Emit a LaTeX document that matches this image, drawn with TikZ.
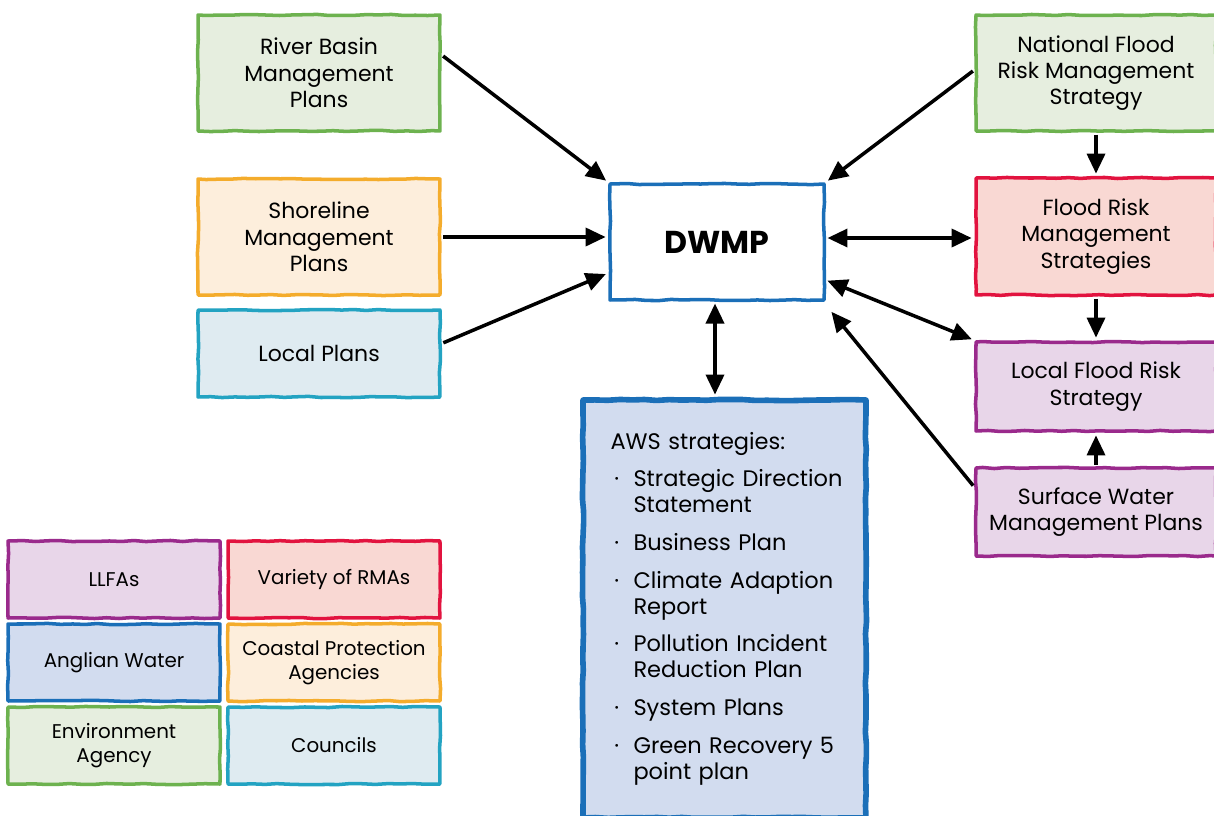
\documentclass[tikz,border=0pt]{standalone}
\usepackage{fontspec}
\setmainfont{Poppins}
\usetikzlibrary{arrows.meta,decorations.pathmorphing}
\definecolor{egreen}{HTML}{6DB24F}\definecolor{egreenfill}{HTML}{E6EEDF}
\definecolor{eorange}{HTML}{F4AC2C}\definecolor{eorangefill}{HTML}{FDEEDC}
\definecolor{ecyan}{HTML}{23A3C2}\definecolor{ecyanfill}{HTML}{DFEBF1}
\definecolor{eblue}{HTML}{1B6FB8}\definecolor{ebluefill}{HTML}{D2DCEF}
\definecolor{ered}{HTML}{E2133F}\definecolor{eredfill}{HTML}{F9D8D3}
\definecolor{epurple}{HTML}{9A2A8C}\definecolor{epurplefill}{HTML}{E8D6E9}
\begin{document}
\begin{tikzpicture}[x=0.02cm,y=-0.02cm,>={Triangle[length=0.4cm,width=0.36cm]},line join=round,
	sketch/.style={draw,line width=2pt,align=center,inner sep=2pt,
		decorate,decoration={random steps,segment length=7pt,amplitude=0.35pt}},
	plan/.style={sketch,minimum width=4.84cm,font=\fontsize{12.5}{15}\selectfont},
	key/.style={sketch,minimum width=4.24cm,minimum height=1.54cm,font=\fontsize{11.3}{13.6}\selectfont},
	green/.style={draw=egreen,fill=egreenfill},
	orange/.style={draw=eorange,fill=eorangefill},
	cyan/.style={draw=ecyan,fill=ecyanfill},
	blue/.style={draw=eblue,fill=ebluefill},
	red/.style={draw=ered,fill=eredfill},
	purple/.style={draw=epurple,fill=epurplefill},
	link/.style={line width=2pt,shorten >=1.5pt,shorten <=1pt}]
	\useasboundingbox (0,0) rectangle (1214,815);
	\node[plan,green,minimum height=2.32cm] (rbmp) at (319,73) {River Basin\\Management\\Plans};
	\node[plan,orange,minimum height=2.32cm] (smp) at (319,237) {Shoreline\\Management\\Plans};
	\node[plan,cyan,minimum height=1.74cm] (lp) at (319,353.5) {Local Plans};
	\node[plan,draw=eblue,fill=white,minimum width=4.28cm,minimum height=2.32cm,font=\fontsize{18}{22}\selectfont\bfseries] (dwmp) at (717,242) {DWMP};
	\node[plan,green,minimum width=4.8cm,minimum height=2.32cm] (nfrms) at (1096,73) {National Flood\\Risk Management\\Strategy};
	\node[plan,red,minimum width=4.8cm,minimum height=2.34cm] (frms) at (1096,236.5) {Flood Risk\\Management\\Strategies};
	\node[plan,purple,minimum width=4.8cm,minimum height=1.78cm] (lfrs) at (1096,386.5) {Local Flood Risk\\Strategy};
	\node[plan,purple,minimum width=4.8cm,minimum height=1.76cm] (swmp) at (1096,512) {Surface Water\\Management Plans};
	\node[sketch,blue,line width=3.2pt,minimum width=5.66cm,minimum height=8.36cm,text width=4.56cm,inner xsep=0.55cm,align=left,
		font=\fontsize{12.8}{14.7}\selectfont] (aws) at (724.5,609) {%
		\begin{tabular}{@{}p{0.46cm}@{}l@{}}
			\multicolumn{2}{@{}l@{}}{AWS strategies:}\\[6.8pt]
			\,· & Strategic Direction\\ & Statement\\[6.8pt]
			\,· & Business Plan\\[6.8pt]
			\,· & Climate Adaption\\ & Report\\[6.8pt]
			\,· & Pollution Incident\\ & Reduction Plan\\[6.8pt]
			\,· & System Plans\\[6.8pt]
			\,· & Green Recovery 5\\ & point plan
		\end{tabular}};
	\node[key,purple] (llfa) at (114,579.5) {LLFAs};
	\node[key,red] (rma) at (334,579.5) {Variety of RMAs};
	\node[key,blue] (aw) at (114,662.5) {Anglian Water};
	\node[key,orange] (cpa) at (334,662.5) {Coastal Protection\\Agencies};
	\node[key,green] (ea) at (114,745.5) {Environment\\Agency};
	\node[key,cyan] (cc) at (334,745.5) {Councils};
	\draw[link,->] ([yshift=0.36cm]rbmp.east) -- (dwmp.north west);
	\draw[link,->] (smp.east) -- (smp.east -| dwmp.west);
	\draw[link,->] ([yshift=0.2cm]lp.east) -- ([yshift=-0.62cm]dwmp.west);
	\draw[link,->] ([yshift=0.06cm]nfrms.west) -- (dwmp.north east);
	\draw[link,<->] ([yshift=0.08cm]dwmp.east) -- ([yshift=0.08cm]dwmp.east -| frms.west);
	\draw[link,<->] ([yshift=-0.76cm]dwmp.east) -- (lfrs.north west);
	\draw[link,->] ([yshift=0.5cm]swmp.west) -- ([xshift=0.08cm,yshift=-0.16cm]dwmp.south east);
	\draw[link,<->] ([xshift=-0.04cm]dwmp.south) -- ([xshift=-0.04cm]dwmp.south |- aws.north);
	\draw[link,->] (nfrms.south) -- (frms.north);
	\draw[link,->] (frms.south) -- (lfrs.north);
	\draw[link,->] (swmp.north) -- (lfrs.south);
\end{tikzpicture}
\end{document}
